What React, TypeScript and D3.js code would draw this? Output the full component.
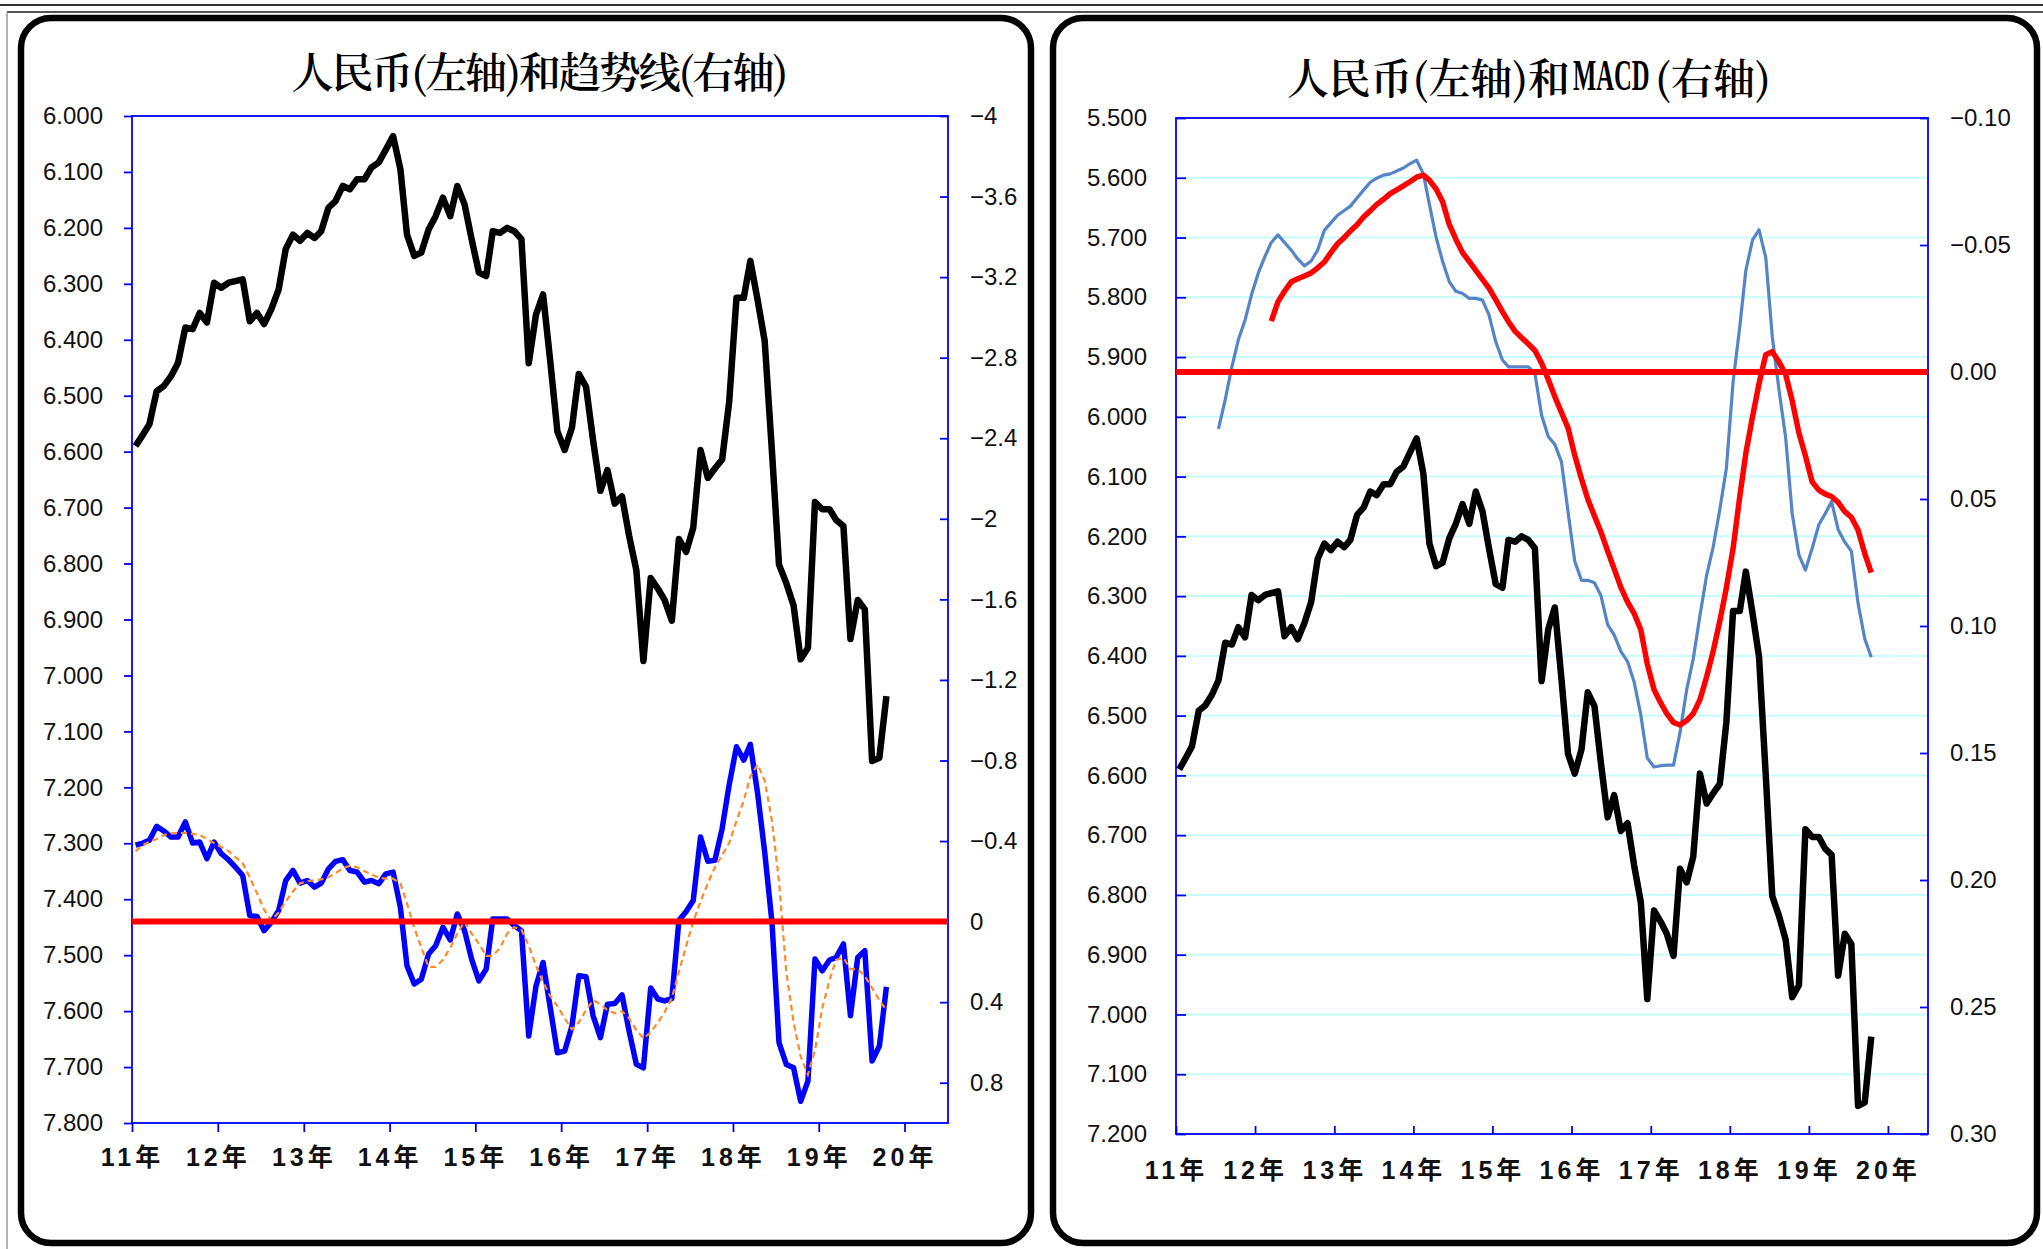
import React, { useEffect, useRef } from 'react';
import * as d3 from 'd3';

// monthly series, first point = Jan 2011
const START_YEAR = 2011;
const yearLabels = ['11年', '12年', '13年', '14年', '15年', '16年', '17年', '18年', '19年', '20年'];

// USD/CNY (both panels, left axis)
const cny = [
  6.590, 6.570, 6.551, 6.492, 6.483, 6.465, 6.441, 6.378, 6.381, 6.352,
  6.369, 6.298, 6.307, 6.298, 6.295, 6.292, 6.367, 6.352, 6.372, 6.345,
  6.310, 6.238, 6.212, 6.223, 6.209, 6.218, 6.206, 6.164, 6.152, 6.125,
  6.131, 6.113, 6.113, 6.092, 6.083, 6.060, 6.036, 6.095, 6.212, 6.250,
  6.244, 6.203, 6.179, 6.146, 6.179, 6.125, 6.158, 6.220, 6.280, 6.286,
  6.206, 6.209, 6.200, 6.206, 6.220, 6.442, 6.355, 6.319, 6.440, 6.564,
  6.597, 6.557, 6.461, 6.484, 6.580, 6.670, 6.633, 6.693, 6.680, 6.750,
  6.812, 6.974, 6.826, 6.845, 6.865, 6.902, 6.756, 6.779, 6.736, 6.597,
  6.647, 6.630, 6.614, 6.511, 6.325, 6.325, 6.259, 6.329, 6.402, 6.600,
  6.802, 6.835, 6.875, 6.971, 6.951, 6.690, 6.703, 6.703, 6.722, 6.733,
  6.935, 6.865, 6.882, 7.153, 7.147, 7.037,
];

// trend line (left panel, right axis)
const trend = [
  -0.38, -0.39, -0.404, -0.473, -0.45, -0.42, -0.42, -0.495, -0.39, -0.395,
  -0.312, -0.395, -0.337, -0.307, -0.27, -0.229, -0.03, -0.025, 0.045, 0.003,
  -0.055, -0.204, -0.254, -0.191, -0.204, -0.171, -0.191, -0.262, -0.299, -0.307,
  -0.254, -0.246, -0.196, -0.204, -0.188, -0.237, -0.246, -0.07, 0.219, 0.31,
  0.286, 0.161, 0.12, 0.028, 0.091, -0.038, 0.045, 0.186, 0.294, 0.236,
  -0.013, -0.013, -0.013, 0.02, 0.045, 0.568, 0.319, 0.203, 0.43, 0.651,
  0.643, 0.518, 0.269, 0.274, 0.468, 0.576, 0.41, 0.407, 0.364, 0.543,
  0.709, 0.726, 0.33, 0.385, 0.394, 0.382, -0.005, -0.05, -0.105, -0.42,
  -0.3, -0.304, -0.462, -0.68, -0.868, -0.802, -0.88, -0.636, -0.345, 0.003,
  0.601, 0.709, 0.726, 0.892, 0.792, 0.186, 0.244, 0.191, 0.178, 0.111,
  0.468, 0.178, 0.144, 0.692, 0.618, 0.324,
];

// smoothed trend (orange dashed)
const trendSmooth = [
  -0.35, -0.38, -0.395, -0.41, -0.43, -0.438, -0.44, -0.44, -0.436, -0.43,
  -0.41, -0.39, -0.37, -0.35, -0.32, -0.29, -0.22, -0.14, -0.06, -0.005,
  -0.045, -0.1, -0.15, -0.19, -0.2, -0.205, -0.21, -0.22, -0.24, -0.265,
  -0.277, -0.27, -0.25, -0.235, -0.218, -0.213, -0.213, -0.19, -0.09, 0.03,
  0.13, 0.225, 0.225, 0.19, 0.13, 0.06, 0.0, 0.06, 0.11, 0.17,
  0.17, 0.13, 0.06, 0.028, 0.04, 0.12, 0.22, 0.3, 0.37, 0.42,
  0.48, 0.535, 0.5, 0.44, 0.39, 0.41, 0.44, 0.455, 0.445, 0.48,
  0.54, 0.58, 0.55, 0.5, 0.45, 0.38, 0.25, 0.12, 0.0, -0.1,
  -0.19, -0.27, -0.33, -0.39, -0.5, -0.6, -0.72, -0.78, -0.7, -0.5,
  -0.2, 0.25, 0.5, 0.67, 0.76, 0.64, 0.43, 0.29, 0.19, 0.18,
  0.236, 0.236, 0.27, 0.33, 0.39, 0.44,
];

// MACD (right panel, right axis)
const DIF_START = 6;
const macdDif = [
  0.0224, 0.011, -0.002, -0.0127, -0.0205, -0.0305, -0.039, -0.0455, -0.051, -0.054,
  -0.051, -0.048, -0.0445, -0.0418, -0.0437, -0.048, -0.0558, -0.0587, -0.0617, -0.0636,
  -0.0653, -0.0685, -0.0716, -0.0747, -0.0763, -0.0775, -0.078, -0.0791, -0.0803, -0.082,
  -0.0834, -0.078, -0.066, -0.053, -0.0435, -0.0355, -0.0318, -0.0309, -0.029, -0.029,
  -0.0283, -0.0225, -0.012, -0.0047, -0.002, -0.002, -0.002, -0.002, 0.0005, 0.017,
  0.0255, 0.0285, 0.0355, 0.055, 0.0745, 0.082, 0.082, 0.083, 0.088, 0.0995,
  0.1035, 0.11, 0.114, 0.122, 0.135, 0.152, 0.1555, 0.155, 0.1548, 0.1548,
  0.142, 0.125, 0.113, 0.096, 0.08, 0.069, 0.054, 0.038, 0.004, -0.0178,
  -0.04, -0.052, -0.056, -0.045, -0.014, 0.007, 0.026, 0.0558, 0.072, 0.078,
  0.0695, 0.0601, 0.056, 0.051, 0.062, 0.067, 0.0705, 0.091, 0.105, 0.1123,
];

const DEA_START = 14;
const macdDea = [
  -0.02, -0.0277, -0.0318, -0.0355, -0.0367, -0.0378, -0.039, -0.041, -0.0433, -0.047,
  -0.0505, -0.053, -0.0555, -0.058, -0.061, -0.0635, -0.066, -0.068, -0.0702, -0.0717,
  -0.0733, -0.0749, -0.0767, -0.0775, -0.0755, -0.072, -0.067, -0.058, -0.0523, -0.047,
  -0.0435, -0.04, -0.0365, -0.033, -0.0285, -0.0238, -0.0198, -0.016, -0.0135, -0.011,
  -0.0085, -0.0035, 0.003, 0.0097, 0.016, 0.022, 0.0328, 0.042, 0.05, 0.0567,
  0.063, 0.0705, 0.0775, 0.0848, 0.0906, 0.095, 0.1015, 0.115, 0.125, 0.1303,
  0.1345, 0.138, 0.139, 0.1372, 0.1345, 0.129, 0.12, 0.11, 0.098, 0.085,
  0.0695, 0.049, 0.032, 0.0175, 0.0045, -0.0068, -0.008, -0.004, 0.001, 0.0113,
  0.024, 0.033, 0.0432, 0.0465, 0.048, 0.049, 0.0513, 0.055, 0.0572, 0.0622,
  0.0715, 0.079,
];

// axis ticks
const rateTicksL = [6.0, 6.1, 6.2, 6.3, 6.4, 6.5, 6.6, 6.7, 6.8, 6.9, 7.0, 7.1, 7.2, 7.3, 7.4, 7.5, 7.6, 7.7, 7.8];
const trendTicks = [-4, -3.6, -3.2, -2.8, -2.4, -2, -1.6, -1.2, -0.8, -0.4, 0, 0.4, 0.8];
const rateTicksR = [5.5, 5.6, 5.7, 5.8, 5.9, 6.0, 6.1, 6.2, 6.3, 6.4, 6.5, 6.6, 6.7, 6.8, 6.9, 7.0, 7.1, 7.2];
const macdTicks = [-0.1, -0.05, 0, 0.05, 0.1, 0.15, 0.2, 0.25, 0.3];

const W = 2043;
const H = 1249;
const NUM_FONT = "'Liberation Sans', Arial, sans-serif";
const CJK_FONT = "'Noto Serif CJK SC', 'Noto Sans CJK SC', serif";
const BLUE = '#0000ff';

const monthDate = (i: number) => new Date(START_YEAR, i, 16);
const xDomain = [new Date(START_YEAR, 0, 1), new Date(2020, 6, 4)];
const yearDates = yearLabels.map((_, i) => new Date(START_YEAR + i, 0, 1));
const signed = (d: number) => (d < 0 ? '\u2212' : '') + String(Math.abs(d));

const App: React.FC = () => {
  const svgRef = useRef<SVGSVGElement>(null);

  useEffect(() => {
    if (!svgRef.current) return;
    const svg = d3.select(svgRef.current);
    svg.selectAll('*').remove();

    svg.append('rect').attr('width', W).attr('height', H).attr('fill', '#fff');

    // page lines above / beside the panels
    svg.append('line').attr('x1', 0).attr('x2', W).attr('y1', 5).attr('y2', 5)
      .attr('stroke', '#333').attr('stroke-width', 2);
    svg.append('line').attr('x1', 7).attr('x2', W).attr('y1', 12).attr('y2', 12)
      .attr('stroke', '#555').attr('stroke-width', 2);
    svg.append('line').attr('x1', 7).attr('x2', 7).attr('y1', 12).attr('y2', H)
      .attr('stroke', '#999').attr('stroke-width', 1.5);

    // panel frames
    [[21, 1010], [1053, 984]].forEach(([x, w]) => {
      svg.append('rect').attr('x', x).attr('y', 18).attr('width', w).attr('height', 1225)
        .attr('rx', 30).attr('fill', '#fff').attr('stroke', '#000').attr('stroke-width', 6.5);
    });

    const styleAxis = (g: d3.Selection<SVGGElement, unknown, null, undefined>, bold = false) => {
      g.select('.domain').remove();
      g.selectAll('line').attr('stroke', BLUE).attr('stroke-width', 1.8);
      g.attr('font-family', bold ? `'Liberation Sans', 'Noto Sans CJK SC', sans-serif` : NUM_FONT)
        .attr('font-size', bold ? 25 : 24)
        .attr('font-weight', bold ? 'bold' : 'normal');
      g.selectAll('text').attr('fill', '#111');
      if (bold) g.selectAll('text').attr('letter-spacing', 4);
    };

    // ---------- left panel: 人民币 and trend ----------
    const L = { x0: 132, x1: 948, y0: 116, y1: 1123 };
    const xL = d3.scaleTime().domain(xDomain).range([L.x0, L.x1]);
    const yRateL = d3.scaleLinear().domain([6.0, 7.8]).range([L.y0, L.y1]);
    const yTrend = d3.scaleLinear().domain([-4, 1]).range([L.y0, L.y1]);

    svg.append('text')
      .attr('x', 540).attr('y', 70)
      .attr('text-anchor', 'middle').attr('dominant-baseline', 'central')
      .attr('font-family', CJK_FONT).attr('font-size', 42).attr('font-weight', 600)
      .attr('textLength', 497).attr('lengthAdjust', 'spacing')
      .text('人民币(左轴)和趋势线(右轴)');

    svg.append('rect').attr('x', L.x0).attr('y', L.y0)
      .attr('width', L.x1 - L.x0).attr('height', L.y1 - L.y0)
      .attr('fill', 'none').attr('stroke', BLUE).attr('stroke-width', 1.8);

    svg.append('g').attr('transform', `translate(${L.x0},0)`)
      .call(d3.axisLeft(yRateL).tickValues(rateTicksL).tickFormat(d3.format('.3f')).tickSize(8).tickPadding(21))
      .call(g => styleAxis(g));

    svg.append('g').attr('transform', `translate(${L.x1},0)`)
      .call(d3.axisRight(yTrend).tickValues(trendTicks).tickFormat(d => signed(d as number)).tickSize(-8).tickPadding(22))
      .call(g => styleAxis(g));

    svg.append('g').attr('transform', `translate(0,${L.y1})`)
      .call(d3.axisBottom(xL).tickValues(yearDates).tickFormat((_, i) => yearLabels[i]).tickSize(9).tickPadding(16))
      .call(g => styleAxis(g, true));

    const cnyLineL = d3.line<number>().x((_, i) => xL(monthDate(i))).y(d => yRateL(d));
    svg.append('path').datum(cny).attr('d', cnyLineL)
      .attr('fill', 'none').attr('stroke', '#000').attr('stroke-width', 6.5).attr('stroke-linejoin', 'round');

    const trendLine = d3.line<number>().x((_, i) => xL(monthDate(i))).y(d => yTrend(d));
    svg.append('path').datum(trend).attr('d', trendLine)
      .attr('fill', 'none').attr('stroke', BLUE).attr('stroke-width', 5.5).attr('stroke-linejoin', 'round');
    svg.append('path').datum(trendSmooth).attr('d', trendLine)
      .attr('fill', 'none').attr('stroke', '#ff8a2a').attr('stroke-width', 2.2)
      .attr('stroke-dasharray', '6,4');

    svg.append('line')
      .attr('x1', L.x0).attr('x2', L.x1).attr('y1', yTrend(0)).attr('y2', yTrend(0))
      .attr('stroke', '#ff0000').attr('stroke-width', 6);

    // ---------- right panel: 人民币 and MACD ----------
    const R = { x0: 1176, x1: 1928, y0: 118, y1: 1134 };
    const xR = d3.scaleTime().domain(xDomain).range([R.x0, R.x1]);
    const yRateR = d3.scaleLinear().domain([5.5, 7.2]).range([R.y0, R.y1]);
    const yMacd = d3.scaleLinear().domain([-0.1, 0.3]).range([R.y0, R.y1]);

    const titleR = svg.append('g')
      .attr('font-family', CJK_FONT).attr('font-size', 42).attr('font-weight', 600);
    titleR.append('text').attr('x', 1287).attr('y', 75.5).attr('dominant-baseline', 'central')
      .attr('textLength', 283).attr('lengthAdjust', 'spacing').text('人民币(左轴)和');
    // condensed MACD, squeezed horizontally like the original
    titleR.append('text').attr('transform', 'translate(1573,75.5) scale(0.56,1)')
      .attr('dominant-baseline', 'central')
      .attr('font-family', "'Liberation Serif', 'Times New Roman', serif").attr('font-weight', 'bold')
      .attr('font-size', 44).text('MACD');
    titleR.append('text').attr('x', 1655).attr('y', 75.5).attr('dominant-baseline', 'central')
      .attr('textLength', 116).attr('lengthAdjust', 'spacing').text('(右轴)');

    // light cyan gridlines
    svg.append('g').selectAll('line')
      .data(rateTicksR.slice(1, -1))
      .enter().append('line')
      .attr('x1', R.x0).attr('x2', R.x1)
      .attr('y1', d => yRateR(d)).attr('y2', d => yRateR(d))
      .attr('stroke', '#c8fbfb').attr('stroke-width', 2);

    svg.append('rect').attr('x', R.x0).attr('y', R.y0)
      .attr('width', R.x1 - R.x0).attr('height', R.y1 - R.y0)
      .attr('fill', 'none').attr('stroke', BLUE).attr('stroke-width', 1.8);

    svg.append('g').attr('transform', `translate(${R.x0},0)`)
      .call(d3.axisLeft(yRateR).tickValues(rateTicksR).tickFormat(d3.format('.3f')).tickSize(-10).tickPadding(29))
      .call(g => styleAxis(g));

    svg.append('g').attr('transform', `translate(${R.x1},0)`)
      .call(d3.axisRight(yMacd).tickValues(macdTicks)
        .tickFormat(d => (Number(d) < 0 ? '\u2212' : '') + Math.abs(Number(d)).toFixed(2)).tickSize(-8).tickPadding(22))
      .call(g => styleAxis(g));

    svg.append('g').attr('transform', `translate(0,${R.y1})`)
      .call(d3.axisBottom(xR).tickValues(yearDates).tickFormat((_, i) => yearLabels[i]).tickSize(-8).tickPadding(27))
      .call(g => styleAxis(g, true));

    const cnyLineR = d3.line<number>().x((_, i) => xR(monthDate(i))).y(d => yRateR(d));
    svg.append('path').datum(cny).attr('d', cnyLineR)
      .attr('fill', 'none').attr('stroke', '#000').attr('stroke-width', 6.5).attr('stroke-linejoin', 'round');

    const difLine = d3.line<number>().x((_, i) => xR(monthDate(i + DIF_START))).y(d => yMacd(d));
    svg.append('path').datum(macdDif).attr('d', difLine)
      .attr('fill', 'none').attr('stroke', '#5585c4').attr('stroke-width', 3.2).attr('stroke-linejoin', 'round');

    const deaLine = d3.line<number>().x((_, i) => xR(monthDate(i + DEA_START))).y(d => yMacd(d));
    svg.append('path').datum(macdDea).attr('d', deaLine)
      .attr('fill', 'none').attr('stroke', '#ff0000').attr('stroke-width', 5.5).attr('stroke-linejoin', 'round');

    svg.append('line')
      .attr('x1', R.x0).attr('x2', R.x1).attr('y1', yMacd(0)).attr('y2', yMacd(0))
      .attr('stroke', '#ff0000').attr('stroke-width', 6);
  }, []);

  return (
    <svg
      ref={svgRef}
      width={W}
      height={H}
      style={{ position: 'absolute', left: 0, top: 0, display: 'block' }}
    />
  );
};

export default App;
